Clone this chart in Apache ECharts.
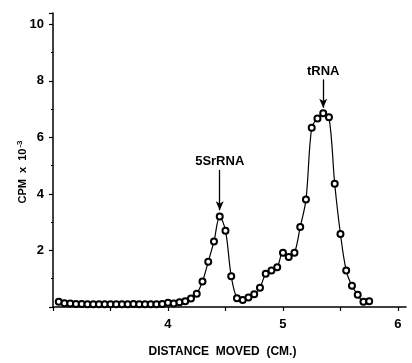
<!DOCTYPE html>
<html>
<head>
<meta charset="utf-8">
<script src="https://cdn.jsdelivr.net/npm/echarts@6/dist/echarts.min.js"></script>
<style>
  html, body { margin: 0; padding: 0; background: #fff; }
  #chart { width: 412px; height: 363px; }
</style>
</head>
<body>
<div id="chart"></div>
<script>
    // distance moved (cm) and counts (CPM x 10^-3)
    var distance = [3.05, 3.10, 3.15, 3.20, 3.25, 3.30, 3.35, 3.40, 3.45, 3.50,
        3.55, 3.60, 3.65, 3.70, 3.75, 3.80, 3.85, 3.90, 3.95, 4.00,
        4.05, 4.10, 4.15, 4.20, 4.25, 4.30, 4.35, 4.40, 4.45, 4.50,
        4.55, 4.60, 4.65, 4.70, 4.75, 4.80, 4.85, 4.90, 4.95, 5.00,
        5.05, 5.10, 5.15, 5.20, 5.25, 5.30, 5.35, 5.40, 5.45, 5.50,
        5.55, 5.60, 5.65, 5.70, 5.75]
    var cpm = [0.19, 0.13, 0.12, 0.11, 0.11, 0.10, 0.10, 0.10, 0.10, 0.10,
        0.10, 0.10, 0.10, 0.11, 0.10, 0.10, 0.10, 0.10, 0.11, 0.15,
        0.12, 0.17, 0.20, 0.30, 0.47, 0.90, 1.60, 2.32, 3.20, 2.70,
        1.09, 0.31, 0.25, 0.34, 0.45, 0.68, 1.18, 1.29, 1.41, 1.92,
        1.77, 1.92, 2.83, 3.80, 6.34, 6.67, 6.85, 6.71, 4.36, 2.58,
        1.29, 0.75, 0.43, 0.19, 0.20]

    // peak labels: text, x, arrow top, arrow tip
    var peakNames = ['5SrRNA', 'tRNA']
    var peakX = [4.45, 5.35]
    var arrowTop = [4.85, 8.05]
    var arrowTip = [3.42, 7.05]

    var font = 'Liberation Sans, Arial, sans-serif'

    var points = distance.map(function(d, i) { return [d, cpm[i]] })
    var arrows = peakNames.map(function(n, i) {
        return [
            { name: n, coord: [peakX[i], arrowTop[i]] },
            { coord: [peakX[i], arrowTip[i]] }
        ]
    })

    var option = {
        animation: false,
        backgroundColor: '#fff',
        grid: { left: 53, right: 6, top: 13, bottom: 45, containLabel: false },
        xAxis: {
            type: 'value',
            min: 3,
            max: 6.07,
            interval: 0.5,
            name: 'DISTANCE  MOVED  (CM.)',
            nameLocation: 'middle',
            nameGap: 39,
            nameTextStyle: { color: '#000', fontFamily: font, fontWeight: 'bold', fontSize: 12, padding: [0, 14, 0, 0] },
            axisLine: { lineStyle: { color: '#000', width: 1.5 } },
            axisTick: { show: true, length: 4, lineStyle: { color: '#000', width: 1.2 } },
            axisLabel: {
                color: '#000', fontFamily: font, fontWeight: 'bold', fontSize: 13, margin: 11,
                showMaxLabel: false,
                formatter: function(v) { return (v >= 4 && v % 1 === 0) ? v : '' }
            },
            splitLine: { show: false }
        },
        yAxis: {
            type: 'value',
            min: 0,
            max: 10.4,
            interval: 2,
            name: '{a|CPM  x  10}{b|-3}',
            nameLocation: 'middle',
            nameGap: 23,
            nameMoveOverlap: false,
            nameTextStyle: {
                color: '#000', fontFamily: font, fontWeight: 'bold', fontSize: 11,
                padding: [0, 0, 0, -24],
                rich: {
                    a: { color: '#000', fontFamily: font, fontWeight: 'bold', fontSize: 11 },
                    b: { color: '#000', fontFamily: font, fontWeight: 'bold', fontSize: 8, verticalAlign: 'top', padding: [0, 0, 6, 1] }
                }
            },
            axisLine: { show: true, lineStyle: { color: '#000', width: 1.5 } },
            axisTick: { show: true, length: 4, lineStyle: { color: '#000', width: 1.2 } },
            minorTick: { show: true, splitNumber: 2, length: 2, lineStyle: { color: '#000', width: 1.2 } },
            axisLabel: {
                color: '#000', fontFamily: font, fontWeight: 'bold', fontSize: 13, margin: 9,
                showMinLabel: false, showMaxLabel: false,
                formatter: function(v) { return v > 0 && v <= 10 ? v : '' }
            },
            splitLine: { show: false }
        },
        series: [{
            type: 'line',
            data: points,
            smooth: 0.35,
            symbol: 'emptyCircle',
            symbolSize: 6,
            showAllSymbol: true,
            lineStyle: { color: '#000', width: 1.2 },
            itemStyle: { color: '#000', borderColor: '#000', borderWidth: 1.1 },
            markLine: {
                silent: true,
                symbol: ['none', 'arrow'],
                symbolSize: [6, 9],
                lineStyle: { color: '#000', width: 1.3, type: 'solid' },
                label: {
                    show: true,
                    position: 'start',
                    distance: 2,
                    formatter: '{b}',
                    color: '#000',
                    fontFamily: font,
                    fontWeight: 'bold',
                    fontSize: 13
                },
                data: arrows
            }
        }]
    }

    echarts.init(document.getElementById('chart')).setOption(option)
</script>
</body>
</html>
